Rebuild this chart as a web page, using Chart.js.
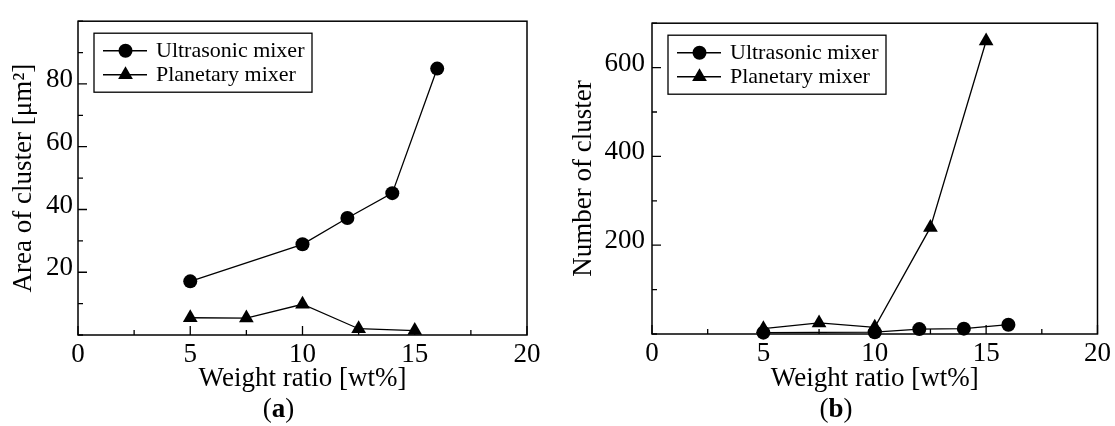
<!DOCTYPE html>
<html>
<head>
<meta charset="utf-8">
<script src="https://cdn.jsdelivr.net/npm/chart.js@4.4.1/dist/chart.umd.min.js"></script>
<style>
  body { margin: 0; background: #fff; }
  #wrap { position: relative; width: 1115px; height: 426px; }
  .panel { position: absolute; top: 0; height: 426px; }
  #panel-a { left: 0; width: 557px; }
  #panel-b { left: 557px; width: 558px; }
  .cap { position: absolute; left: 0; top: 393px; width: 100%; text-align: center;
         font: 27px "Liberation Serif", serif; color: #000; line-height: 30px; }
</style>
</head>
<body>
<div id="wrap">
  <div class="panel" id="panel-a">
    <canvas id="chart-a" width="557" height="426"></canvas>
    <div class="cap">(<b>a</b>)</div>
  </div>
  <div class="panel" id="panel-b">
    <canvas id="chart-b" width="558" height="426"></canvas>
    <div class="cap">(<b>b</b>)</div>
  </div>
</div>
<script>
// data
const ultrasonicX = [5, 10, 12, 14, 16];
const planetaryX = [5, 7.5, 10, 12.5, 15];

// (a) area of cluster [um2]
const areaUltrasonic = [17.1, 28.9, 37.3, 45.2, 84.9];
const areaPlanetary = [5.5, 5.4, 9.8, 2.0, 1.4];

// (b) number of cluster
const countUltrasonic = [3, 4, 11, 12, 21];
const countPlanetary = [12, 25, 15, 240, 660];

const xLabelTicks = [0, 5, 10, 15, 20];
const areaLabelTicks = [20, 40, 60, 80];
const countLabelTicks = [200, 400, 600];

const seriesNames = ['Ultrasonic mixer', 'Planetary mixer'];

Chart.defaults.font.family = '"Liberation Serif", "Times New Roman", serif';
Chart.defaults.color = '#000';

function toPoints(xs, ys) {
  return xs.map((x, i) => ({ x: x, y: ys[i] }));
}

function drawMarker(ctx, style, x, y, r) {
  ctx.beginPath();
  if (style === 'triangle') {
    // same geometry as chart.js triangle
    ctx.moveTo(x, y - r);
    ctx.lineTo(x + Math.sin(2 * Math.PI / 3) * r, y + r / 2);
    ctx.lineTo(x - Math.sin(2 * Math.PI / 3) * r, y + r / 2);
    ctx.closePath();
  } else {
    ctx.arc(x, y, r, 0, Math.PI * 2);
  }
  ctx.fill();
}

// box round the plot and inward ticks
const frameTicks = {
  id: 'frameTicks',
  beforeDatasetsDraw(chart) {
    const { ctx, chartArea: a, scales } = chart;
    const majorX = chart.options.plugins.frameTicks.majorX;
    const majorY = chart.options.plugins.frameTicks.majorY;
    ctx.save();
    ctx.strokeStyle = '#000';
    ctx.lineWidth = 1.5;
    ctx.strokeRect(a.left, a.top, a.right - a.left, a.bottom - a.top);
    ctx.lineWidth = 1.3;
    ctx.beginPath();
    scales.x.ticks.forEach(t => {
      const px = scales.x.getPixelForValue(t.value);
      const len = majorX.includes(t.value) ? 9 : 5;
      ctx.moveTo(px, a.bottom);
      ctx.lineTo(px, a.bottom - len);
    });
    scales.y.ticks.forEach(t => {
      const py = scales.y.getPixelForValue(t.value);
      const len = majorY.includes(t.value) ? 9 : 5;
      ctx.moveTo(a.left, py);
      ctx.lineTo(a.left + len, py);
    });
    ctx.stroke();
    ctx.restore();
  }
};

// framed legend with line + marker
const boxLegend = {
  id: 'boxLegend',
  afterDatasetsDraw(chart) {
    const { ctx, chartArea: a } = chart;
    const left = a.left + 16;
    const top = a.top + 12;
    ctx.save();
    ctx.fillStyle = '#fff';
    ctx.fillRect(left, top, 218, 59);
    ctx.strokeStyle = '#000';
    ctx.lineWidth = 1.3;
    ctx.strokeRect(left, top, 218, 59);
    ctx.font = '22px "Liberation Serif", serif';
    ctx.textBaseline = 'middle';
    chart.data.datasets.forEach((ds, i) => {
      const y = top + 17.5 + i * 24;
      ctx.strokeStyle = '#000';
      ctx.fillStyle = '#000';
      ctx.lineWidth = 1.5;
      ctx.beginPath();
      ctx.moveTo(left + 9, y);
      ctx.lineTo(left + 53, y);
      ctx.stroke();
      drawMarker(ctx, ds.pointStyle, left + 31.5, y, ds.pointRadius);
      ctx.fillText(ds.label, left + 62, y + 1);
    });
    ctx.restore();
  }
};

function makeDataset(name, xs, ys, style) {
  return {
    label: name,
    data: toPoints(xs, ys),
    borderColor: '#000',
    backgroundColor: '#000',
    borderWidth: 1.3,
    pointStyle: style,
    pointRadius: style === 'triangle' ? 8.5 : 7,
    pointBorderWidth: 0,
    tension: 0,
    clip: false
  };
}

function makeChart(canvasId, cfg) {
  return new Chart(document.getElementById(canvasId), {
    type: 'line',
    data: {
      datasets: [
        makeDataset(seriesNames[0], ultrasonicX, cfg.ultrasonic, 'circle'),
        makeDataset(seriesNames[1], planetaryX, cfg.planetary, 'triangle')
      ]
    },
    options: {
      responsive: false,
      animation: false,
      events: [],
      layout: { padding: { top: 16, right: cfg.padRight, left: 0, bottom: 0 } },
      plugins: {
        legend: { display: false },
        tooltip: { enabled: false },
        frameTicks: { majorX: xLabelTicks, majorY: cfg.yLabels }
      },
      scales: {
        x: {
          type: 'linear',
          min: 0,
          max: 20,
          grid: { display: false, drawTicks: false },
          border: { display: false },
          ticks: {
            stepSize: 2.5,
            autoSkip: false,
            maxRotation: 0,
            padding: 4,
            font: { size: 27 },
            callback: v => xLabelTicks.includes(v) ? v : ''
          },
          title: {
            display: true,
            text: 'Weight ratio [wt%]',
            font: { size: 27 },
            padding: { top: 0, bottom: 31 }
          },
          afterFit: s => { s.height = cfg.xHeight; }
        },
        y: {
          min: 0,
          max: cfg.yMax,
          grid: { display: false, drawTicks: false },
          border: { display: false },
          ticks: {
            stepSize: cfg.yStep,
            autoSkip: false,
            padding: cfg.yPad,
            labelOffset: -4,
            font: { size: 27 },
            callback: v => cfg.yLabels.includes(v) ? v : ''
          },
          title: {
            display: true,
            text: cfg.yTitle,
            font: { size: 27 },
            padding: { top: cfg.yTitlePad, bottom: 0 }
          },
          afterFit: s => { s.width = cfg.yWidth; }
        }
      }
    },
    plugins: [frameTicks, boxLegend]
  });
}

makeChart('chart-a', {
  ultrasonic: areaUltrasonic,
  planetary: areaPlanetary,
  yMax: 100,
  yStep: 10,
  yLabels: areaLabelTicks,
  yTitle: 'Area of cluster [μm²]',
  yWidth: 78,
  yPad: 5,
  yTitlePad: 8,
  padRight: 30,
  xHeight: 91
});

makeChart('chart-b', {
  ultrasonic: countUltrasonic,
  planetary: countPlanetary,
  yMax: 700,
  yStep: 100,
  yLabels: countLabelTicks,
  yTitle: 'Number of cluster',
  yWidth: 95,
  yPad: 7,
  yTitlePad: 11,
  padRight: 17,
  xHeight: 92
});
</script>
</body>
</html>
